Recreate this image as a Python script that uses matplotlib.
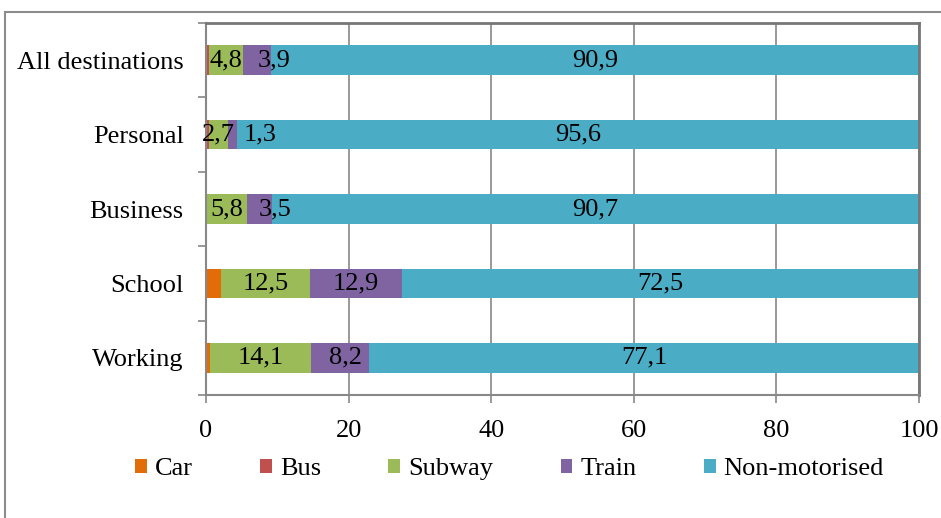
import numpy as np
import matplotlib.pyplot as plt
from matplotlib.patches import Rectangle

plt.rcParams['font.family'] = ['Liberation Serif', 'DejaVu Serif']

# Categories, drawn bottom to top
categories = ['Working', 'School', 'Business', 'Personal', 'All destinations']
modes = ['Car', 'Bus', 'Subway', 'Train', 'Non-motorised']
car = [0.6, 2.1, 0.0, 0.0, 0.0]
bus = [0.0, 0.0, 0.0, 0.4, 0.4]
subway = [14.1, 12.5, 5.8, 2.7, 4.8]
train = [8.2, 12.9, 3.5, 1.3, 3.9]
non_motorised = [77.1, 72.5, 90.7, 95.6, 90.9]
labelled = ['Subway', 'Train', 'Non-motorised']

series = [car, bus, subway, train, non_motorised]
colors = ['#E36C0A', '#C0504D', '#9BBB59', '#8064A2', '#4BACC6']
# label nudges (points) for the narrow train segments, as in the original
train_dx = [4, 0, 11, 20, 12]

fs = 19
fig = plt.figure(figsize=(9.41, 5.18), dpi=100)
fig.patches.append(Rectangle((5 / 941, -0.1), 1.2, 1 - 12 / 518 + 0.1,
                             transform=fig.transFigure, fill=False,
                             edgecolor='#8c8c8c', linewidth=1.5))
ax = fig.add_axes([206 / 941, 1 - 395 / 518, (919 - 206) / 941, (395 - 23) / 518])

y = np.arange(len(categories))
left = np.zeros(len(categories))
for name, vals, col in zip(modes, series, colors):
    vals = np.array(vals)
    ax.barh(y, vals, left=left, height=0.4, color=col, label=name)
    if name in labelled:
        for i, (yi, l, v) in enumerate(zip(y, left, vals)):
            dx = train_dx[i] if name == 'Train' else 0
            ax.annotate(f'{v:.1f}'.replace('.', ','), (l + v / 2, yi),
                        xytext=(dx, 0), textcoords='offset points',
                        ha='center', va='center', fontsize=fs, color='black')
    left += vals

ax.set_xlim(0, 100)
ax.set_ylim(-0.5, len(categories) - 0.5)
ax.set_xticks(np.arange(0, 101, 20))
ax.set_yticks(y)
ax.set_yticklabels(categories)
ax.set_yticks(np.arange(-0.5, len(categories), 1), minor=True)
ax.tick_params(axis='y', which='major', length=0, labelsize=fs, pad=16)
ax.tick_params(axis='y', which='minor', length=6, color='#888888', width=1.2)
ax.tick_params(axis='x', length=6, color='#888888', width=1.2, labelsize=fs, pad=12)
ax.xaxis.grid(True, color='#888888', linewidth=1.2)
ax.set_axisbelow(True)
for s in ['left', 'bottom']:
    ax.spines[s].set_color('#888888')
    ax.spines[s].set_linewidth(1.5)
for s in ['top', 'right']:
    ax.spines[s].set_color('#777777')
    ax.spines[s].set_linewidth(2)

handles, labels = ax.get_legend_handles_labels()
fig.legend(handles, labels, loc='center', bbox_to_anchor=(0.5415, 1 - 469 / 518),
           ncol=5, frameon=False, fontsize=fs, handlelength=0.45, handleheight=0.45,
           handletextpad=0.3, columnspacing=2.55)

fig.savefig('out.png', dpi=100)
